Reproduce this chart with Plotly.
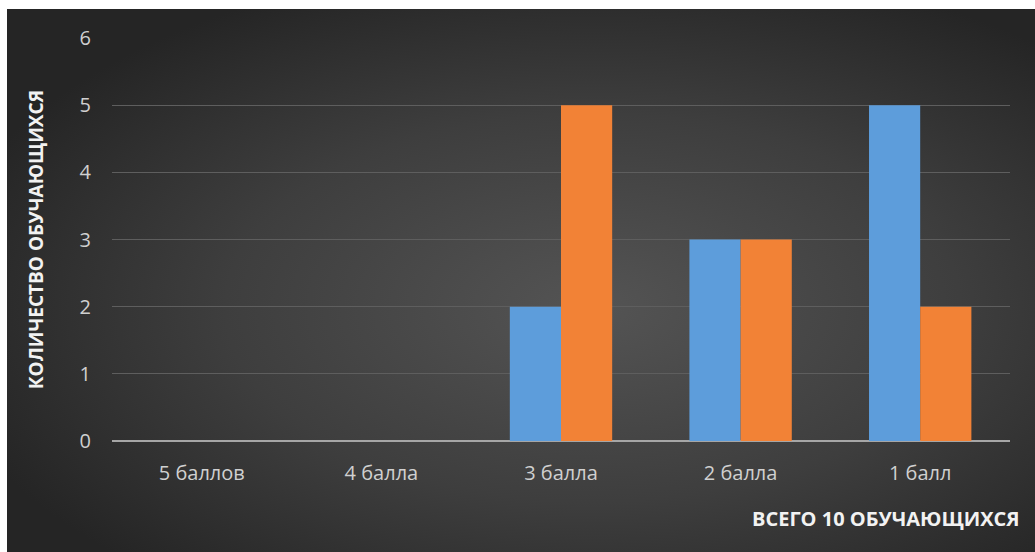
import base64
import plotly.graph_objects as go

categories = ["5 баллов", "4 балла", "3 балла", "2 балла", "1 балл"]
series_blue = [0, 0, 2, 3, 5]
series_orange = [0, 0, 5, 3, 2]
y_ticks = [0, 1, 2, 3, 4, 5, 6]

W, H = 1035, 552
L, R, T, B = 112, 1010, 38, 441

svg = """<svg xmlns='http://www.w3.org/2000/svg' width='1028' height='543' preserveAspectRatio='none'>
<defs><radialGradient id='g' cx='0.57' cy='0.55' r='0.65'>
<stop offset='0' stop-color='#545454'/><stop offset='0.55' stop-color='#3e3e3e'/><stop offset='1' stop-color='#252525'/>
</radialGradient></defs><rect width='1028' height='543' fill='url(#g)'/></svg>"""
src = "data:image/svg+xml;base64," + base64.b64encode(svg.encode()).decode()

fig = go.Figure()
fig.add_trace(go.Bar(x=categories, y=series_blue, marker=dict(color="#5d9ddb", line=dict(width=0)), showlegend=False))
fig.add_trace(go.Bar(x=categories, y=series_orange, marker=dict(color="#f28236", line=dict(width=0)), showlegend=False))

pw, ph = R - L, B - T
fig.add_layout_image(dict(source=src, xref="paper", yref="paper",
                          x=(7 - L) / pw, y=(B - 9) / ph,
                          sizex=(W - 7) / pw, sizey=(H - 9) / ph,
                          xanchor="left", yanchor="top", sizing="stretch", layer="below"))

fig.update_layout(
    width=W, height=H,
    margin=dict(l=L, r=W - R, t=T, b=H - B, pad=0),
    paper_bgcolor="white", plot_bgcolor="rgba(0,0,0,0)",
    barmode="group", bargap=0.43, bargroupgap=0,
    font=dict(family="Open Sans, sans-serif", color="#d0d0d0", size=20),
    xaxis=dict(showgrid=False, showline=False, zeroline=False, ticks="",
               tickfont=dict(size=20, color="#d0d0d0"), ticklabelstandoff=18),
    yaxis=dict(range=[0, 6], tickvals=y_ticks, showgrid=True, gridcolor="#5e5e5e", gridwidth=1,
               zeroline=True, zerolinecolor="#a6a6a6", zerolinewidth=2, showline=False, ticks="",
               tickfont=dict(size=20, color="#d0d0d0"), ticklabelstandoff=20,
               title=dict(text="<b>КОЛИЧЕСТВО ОБУЧАЮЩИХСЯ</b>", font=dict(size=19, color="#f2f2f2"), standoff=30)),
    annotations=[dict(text="<b>ВСЕГО 10 ОБУЧАЮЩИХСЯ</b>", xref="paper", yref="paper",
                      x=(1022 - L) / pw, y=(B - 518) / ph, xanchor="right", yanchor="middle",
                      showarrow=False, font=dict(size=20, color="#f2f2f2"))],
)

fig.write_html("out.html")
